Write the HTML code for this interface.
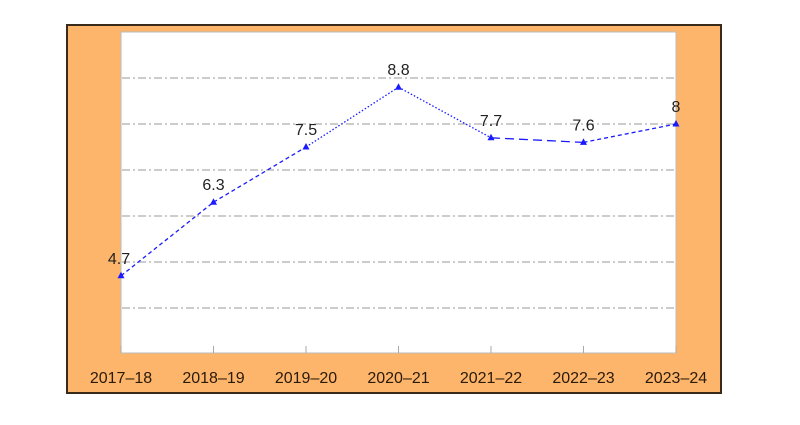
<!DOCTYPE html>
<html><head><meta charset="utf-8"><style>
body{margin:0;background:#fff;width:800px;height:420px;overflow:hidden;font-family:"Liberation Sans",sans-serif}
</style></head><body>
<svg width="800" height="420">
<rect x="67" y="25" width="654" height="368" fill="#FDB56B" stroke="#3a2a1a" stroke-width="2"/>
<rect x="121" y="32" width="555" height="321" fill="#fff" stroke="#bbb" stroke-width="1"/>
<g id="grid"></g><g id="lines"></g><g id="pts"></g><g id="xl"></g>
</svg>
<script>
const categories=["2017–18","2018–19","2019–20","2020–21","2021–22","2022–23","2023–24"];
const values=[4.7,6.3,7.5,8.8,7.7,7.6,8];
const gridValues=[4,5,6,7,8,9];
const dashes=["4,3","4,3","1.5,2","1.5,2","9,5","4,3"];
const ns="http://www.w3.org/2000/svg";
const xS=i=>121+i*(555/(categories.length-1));
const yS=v=>354-(v-3)*46;
function mk(t,a){const e=document.createElementNS(ns,t);for(const k in a)e.setAttribute(k,a[k]);return e;}
const g=document.getElementById('grid');
gridValues.forEach(v=>{const l=mk('line',{x1:122,x2:675,y1:yS(v),y2:yS(v),stroke:'#999','stroke-dasharray':'8,3,2,3','stroke-width':1});

g.appendChild(l);});
const L=document.getElementById('lines'),P=document.getElementById('pts'),X=document.getElementById('xl');
for(let i=0;i<values.length-1;i++){const l=mk('line',{x1:xS(i),y1:yS(values[i]),x2:xS(i+1),y2:yS(values[i+1]),stroke:'#1a1aff','stroke-width':1.3,'stroke-dasharray':dashes[i]});

L.appendChild(l);}
values.forEach((v,i)=>{const x=xS(i),y=yS(v);
const m=mk('polygon',{points:`${x},${y-4} ${x-3.5},${y+2.5} ${x+3.5},${y+2.5}`,fill:'#1a1aff'});

P.appendChild(m);
const t=mk('text',{x:x+(i==0?-2:0),y:y-12,'text-anchor':'middle','font-size':16,fill:'#222'});t.textContent=v;

P.appendChild(t);
const tk=mk('line',{x1:x,x2:x,y1:346,y2:353,stroke:'#aaa'});

X.appendChild(tk);
const c=mk('text',{x:x,y:383,'text-anchor':'middle','font-size':16,fill:'#2a1a0a'});c.textContent=categories[i];

X.appendChild(c);});
</script>
</body></html>
